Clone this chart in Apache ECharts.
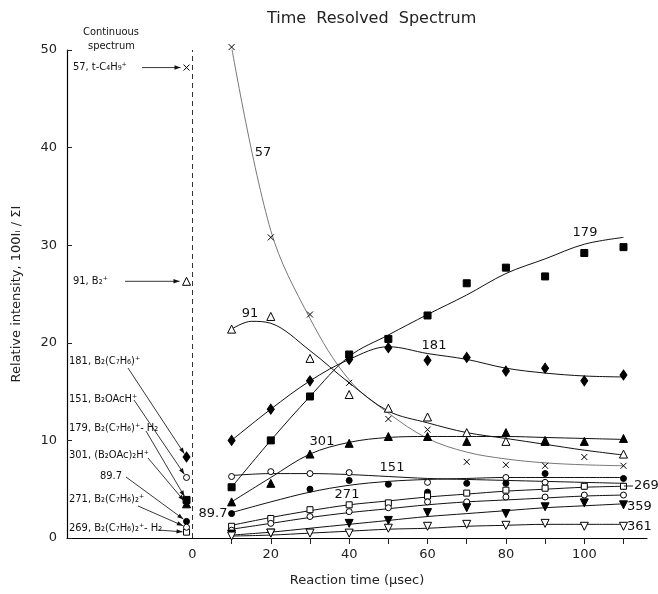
<!DOCTYPE html>
<html>
<head>
<meta charset="utf-8">
<script src="https://cdn.jsdelivr.net/npm/echarts@6/dist/echarts.min.js"></script>
<style>
  html, body { margin: 0; background: #fff; }
  #chart { width: 658px; height: 594px; }
</style>
</head>
<body>
<div id="chart"></div>
<script>
// reaction times (usec) of the time resolved points
const times = [10, 20, 30, 40, 50, 60, 70, 80, 90, 100, 110];
// x position of the continuous spectrum column
const contX = -1.5;

// measured points (null = not visible in the figure)
const pts57  = [50.3, 30.8, 22.9, 15.9, 12.2, 11.1, 7.8, 7.5, 7.4, 8.3, 7.4];
const pts91  = [21.4, 22.7, 18.4, 14.7, 13.3, 12.4, 10.8, 9.9, 10.0, null, 8.6];
const pts179 = [5.2, 10.0, 14.5, 18.8, 20.4, 22.8, 26.1, 27.7, 26.8, 29.2, 29.8];
const pts181 = [10.0, 13.2, 16.1, 18.3, 19.5, 18.2, 18.5, 17.1, 17.4, 16.1, 16.7];
const pts301 = [3.7, 5.6, 8.6, 9.7, 10.4, 10.4, 9.9, 10.8, 9.9, 9.9, 10.2];
const pts151 = [6.3, 6.8, 6.6, 6.7, null, 5.7, null, 6.2, 5.7, 5.3, 5.3];
const pts897 = [2.5, null, 5.0, 5.9, 5.5, 4.7, 5.6, 5.6, 6.6, null, 6.1];
const pts269 = [1.2, 2.0, 2.9, 3.4, 3.6, 4.3, 4.6, 4.9, 5.1, 5.3, 5.3];
const pts271 = [0.8, 1.5, 2.2, 2.7, 3.1, 3.7, 3.7, 4.2, 4.2, 4.4, 4.4];
const pts359 = [0.4, 0.5, null, 1.5, 1.8, 2.6, 3.1, 2.5, 3.2, 3.6, 3.4];
const pts361 = [0.2, 0.5, 0.5, 0.5, 1.0, 1.2, 1.4, 1.3, 1.5, 1.2, 1.2];

// hand drawn curves through the points
const fit57  = [[10, 50.3], [20, 31.5], [30, 22.5], [40, 16.2], [50, 12.8], [60, 10.2], [70, 8.8], [80, 8.1], [90, 7.7], [100, 7.5], [110, 7.4]];
const fit91  = [[10, 21.4], [15, 22.2], [20, 22.0], [30, 19.2], [40, 15.9], [50, 13.0], [60, 11.8], [70, 10.8], [80, 10.2], [90, 9.6], [100, 9.0], [110, 8.5]];
const fit179 = [[10, 5.2], [20, 10.0], [30, 14.5], [40, 18.6], [50, 20.8], [60, 22.9], [70, 24.9], [80, 27.1], [90, 28.6], [100, 30.1], [110, 30.8]];
const fit181 = [[10, 10.0], [20, 13.2], [30, 16.1], [40, 18.3], [50, 19.6], [60, 18.9], [70, 18.3], [80, 17.4], [90, 16.9], [100, 16.6], [110, 16.5]];
const fit301 = [[10, 3.7], [20, 6.2], [30, 8.6], [40, 9.8], [50, 10.3], [60, 10.4], [70, 10.4], [80, 10.4], [90, 10.3], [100, 10.2], [110, 10.1]];
const fit151 = [[10, 6.4], [20, 6.6], [30, 6.6], [40, 6.5], [50, 6.3], [60, 6.1], [70, 6.0], [80, 5.9], [90, 5.8], [100, 5.7], [110, 5.6]];
const fit897 = [[10, 2.6], [20, 3.7], [30, 4.7], [40, 5.4], [50, 5.8], [60, 6.0], [70, 6.1], [80, 6.2], [90, 6.2], [100, 6.2], [110, 6.2]];
const fit269 = [[10, 1.3], [20, 2.1], [30, 2.8], [40, 3.4], [50, 3.8], [60, 4.2], [70, 4.5], [80, 4.8], [90, 5.0], [100, 5.2], [110, 5.3]];
const fit271 = [[10, 0.9], [20, 1.5], [30, 2.1], [40, 2.6], [50, 3.0], [60, 3.4], [70, 3.7], [80, 3.9], [90, 4.1], [100, 4.3], [110, 4.4]];
const fit359 = [[10, 0.3], [20, 0.6], [30, 1.0], [40, 1.4], [50, 1.8], [60, 2.2], [70, 2.5], [80, 2.8], [90, 3.1], [100, 3.3], [110, 3.5]];
const fit361 = [[10, 0.2], [20, 0.3], [30, 0.5], [40, 0.7], [50, 0.9], [60, 1.0], [70, 1.2], [80, 1.3], [90, 1.4], [100, 1.4], [110, 1.4]];

// continuous spectrum values
const cont57 = 48.2, cont91 = 26.3, cont181 = 8.3, cont151 = 6.2, cont179 = 3.9,
      cont301 = 3.5, cont897 = 1.7, cont271 = 1.1, cont269 = 0.6;

const xTicks = [10, 20, 30, 40, 50, 60, 70, 80, 90, 100, 110];
const xLabels = [0, 20, 40, 60, 80, 100];

const FONT = "'DejaVu Sans', sans-serif";
const NARROW = "'Liberation Sans Narrow', 'DejaVu Sans Condensed', 'Liberation Sans', sans-serif";
const cross = 'path://M0,0L10,10M10,0L0,10';

const groups = [
  { name: '57', pts: pts57, fit: fit57, cont: cont57, symbol: cross, size: 6, fill: 'none', line: '#777' },
  { name: '91', pts: pts91, fit: fit91, cont: cont91, symbol: 'triangle', size: 8, fill: '#fff' },
  { name: '179', pts: pts179, fit: fit179, cont: cont179, symbol: 'rect', size: 7, fill: '#000' },
  { name: '181', pts: pts181, fit: fit181, cont: cont181, symbol: 'diamond', size: [7, 10], fill: '#000' },
  { name: '301', pts: pts301, fit: fit301, cont: cont301, symbol: 'triangle', size: 8, fill: '#000' },
  { name: '151', pts: pts151, fit: fit151, cont: cont151, symbol: 'circle', size: 6, fill: '#fff' },
  { name: '89.7', pts: pts897, fit: fit897, cont: cont897, symbol: 'circle', size: 6, fill: '#000' },
  { name: '269', pts: pts269, fit: fit269, cont: cont269, symbol: 'rect', size: 6, fill: '#fff' },
  { name: '271', pts: pts271, fit: fit271, cont: cont271, symbol: 'circle', size: 6, fill: '#fff' },
  { name: '359', pts: pts359, fit: fit359, cont: null, symbol: 'triangle', size: 8, fill: '#000', rotate: 180 },
  { name: '361', pts: pts361, fit: fit361, cont: null, symbol: 'triangle', size: 8, fill: '#fff', rotate: 180 }
];

const series = [];
groups.forEach(function (g) {
  series.push({
    type: 'line', name: g.name + ' fit', data: g.fit, smooth: 0.35,
    showSymbol: false, silent: true, z: 2,
    lineStyle: { color: g.line || '#111', width: 1 }
  });
});
groups.forEach(function (g) {
  const data = [];
  times.forEach(function (t, i) { if (g.pts[i] != null) data.push([t, g.pts[i]]); });
  if (g.cont != null) data.push([contX, g.cont]);
  series.push({
    type: 'scatter', name: g.name, data: data, z: 5,
    symbol: g.symbol, symbolSize: g.size, symbolRotate: g.rotate || 0,
    clip: false,
    itemStyle: { color: g.fill, borderColor: '#000', borderWidth: 1, opacity: 1 }
  });
});
// dashed separator of the continuous spectrum
series.push({
  type: 'line', data: [], silent: true,
  markLine: {
    symbol: 'none', silent: true, label: { show: false },
    lineStyle: { type: [5, 4], color: '#333', width: 1 },
    data: [{ xAxis: 0 }]
  }
});

const chart = echarts.init(document.getElementById('chart'));
chart.setOption({
  backgroundColor: '#fff',
  animation: false,
  title: {
    text: 'Time  Resolved  Spectrum', left: 262, top: 6,
    textStyle: { fontFamily: FONT, fontWeight: 'normal', fontSize: 16, color: '#222' }
  },
  grid: { left: 67, right: 11, top: 50, bottom: 56 },
  xAxis: {
    type: 'value', min: -32, max: 116,
    name: 'Reaction time (\u03bcsec)', nameLocation: 'middle', nameGap: 36,
    nameTextStyle: { fontFamily: FONT, fontSize: 13, color: '#222' },
    splitLine: { show: false },
    axisLine: { onZero: false, lineStyle: { color: '#000', width: 1.2 } },
    axisTick: { customValues: xTicks, length: 6, lineStyle: { color: '#222' } },
    axisLabel: { customValues: xLabels, fontFamily: FONT, fontSize: 13, color: '#222', margin: 10 }
  },
  yAxis: {
    type: 'value', min: 0, max: 50, interval: 10,
    name: 'Relative intensity, 100I\u1d62 / \u03a3I', nameLocation: 'middle', nameGap: 44,
    nameTextStyle: { fontFamily: FONT, fontSize: 13, color: '#222' },
    splitLine: { show: false },
    axisLine: { show: true, onZero: false, lineStyle: { color: '#000', width: 1.2 } },
    axisTick: { show: true, inside: true, length: 5, lineStyle: { color: '#222' } },
    axisLabel: { fontFamily: FONT, fontSize: 13, color: '#222', margin: 10 }
  },
  series: series
});

// annotations
function px(x, y) { return chart.convertToPixel({ gridIndex: 0 }, [x, y]); }
function txt(x, y, s, size, align, font) {
  return { type: 'text', x: x, y: y, z: 20, silent: true,
    style: { text: s, fill: '#111', font: (size || 11) + 'px ' + (font || NARROW),
      textAlign: align || 'left', textVerticalAlign: 'middle' } };
}
function arrow(x1, y1, x2, y2, gap) {
  const a = Math.atan2(y2 - y1, x2 - x1);
  const ex = x2 - Math.cos(a) * gap, ey = y2 - Math.sin(a) * gap;
  const L = 6, W = 2.2, c = Math.cos(a), s = Math.sin(a);
  return [
    { type: 'line', z: 20, silent: true, shape: { x1: x1, y1: y1, x2: ex, y2: ey },
      style: { stroke: '#222', lineWidth: 0.9 } },
    { type: 'polygon', z: 20, silent: true,
      shape: { points: [[ex, ey], [ex - L * c + W * s, ey - L * s - W * c], [ex - L * c - W * s, ey - L * s + W * c]] },
      style: { fill: '#111' } }
  ];
}

const g = [];
g.push(txt(83, 32, 'Continuous', 11));
g.push(txt(88, 46, 'spectrum', 11));

const p57 = px(contX, cont57), p91 = px(contX, cont91);
g.push(txt(73, p57[1], '57, t-C\u2084H\u2089\u207a', 11));
g.push.apply(g, arrow(142, p57[1], p57[0], p57[1], 6));
g.push(txt(73, p91[1], '91, B\u2082\u207a', 11));
g.push.apply(g, arrow(125, p91[1], p91[0], p91[1], 7));

const leftLabels = [
  { y: 361, s: '181, B\u2082(C\u2087H\u2086)\u207a', from: [128, 368], v: cont181 },
  { y: 399, s: '151, B\u2082OAcH\u207a', from: [134, 400], v: cont151 },
  { y: 428, s: '179, B\u2082(C\u2087H\u2086)\u207a- H\u2082', from: [146, 431], v: cont179 },
  { y: 455, s: '301, (B\u2082OAc)\u2082H\u207a', from: [148, 458], v: cont301 },
  { y: 476, s: '89.7', from: [126, 477], v: cont897, x: 100 },
  { y: 499, s: '271, B\u2082(C\u2087H\u2086)\u2082\u207a', from: [138, 506], v: cont271 },
  { y: 528, s: '269, B\u2082(C\u2087H\u2086)\u2082\u207a- H\u2082', from: [158, 530], v: cont269 }
];
leftLabels.forEach(function (l) {
  g.push(txt(l.x || 69, l.y, l.s, 11));
  const p = px(contX, l.v);
  g.push.apply(g, arrow(l.from[0], l.from[1], p[0], p[1], 4));
});

// curve labels
g.push(txt(263, 153, '57', 13, 'center', FONT));
g.push(txt(250, 314, '91', 13, 'center', FONT));
g.push(txt(585, 233, '179', 13, 'center', FONT));
g.push(txt(434, 346, '181', 13, 'center', FONT));
g.push(txt(322, 442, '301', 13, 'center', FONT));
g.push(txt(392, 468, '151', 13, 'center', FONT));
g.push(txt(347, 495, '271', 13, 'center', FONT));
g.push(txt(213, 514, '89.7', 13, 'center', FONT));
g.push({ type: 'line', z: 20, silent: true, shape: { x1: 624, y1: 486, x2: 633, y2: 486 }, style: { stroke: '#222', lineWidth: 1 } });
g.push(txt(634, 486, '269', 13, 'left', FONT));
g.push(txt(627, 507, '359', 13, 'left', FONT));
g.push(txt(627, 527, '361', 13, 'left', FONT));

chart.setOption({ graphic: { elements: g } });
</script>
</body>
</html>
